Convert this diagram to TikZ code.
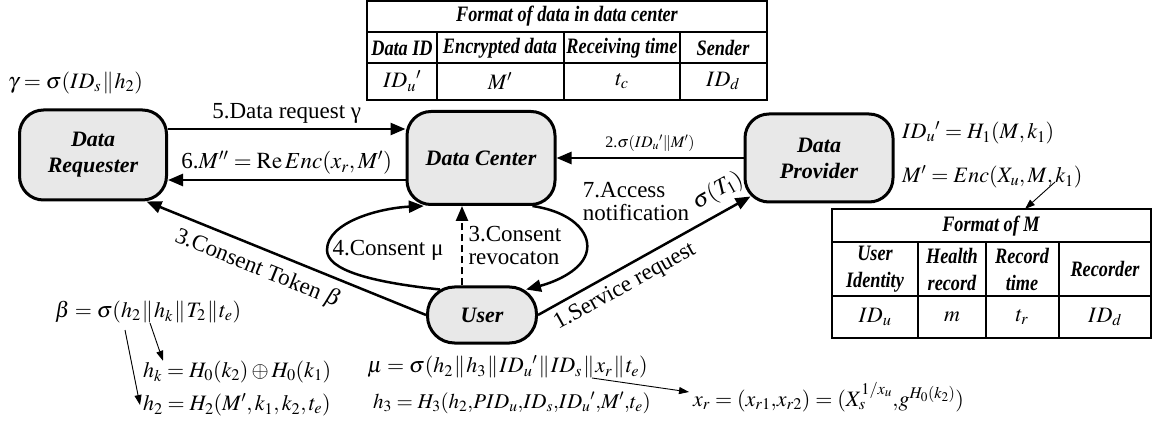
\documentclass[tikz,border=0pt]{standalone}
\usepackage{mathptmx}
\usepackage[no-math]{fontspec}
\setmainfont{Liberation Serif}
\newfontfamily\tabfont[FakeStretch=0.83]{Liberation Serif}
\usetikzlibrary{arrows.meta}
\newcommand{\pcat}{\mathrel{\mkern-3mu\|\mkern-3mu}}

\begin{document}
\begin{tikzpicture}[x=1pt, y=-1pt,
    party/.style={draw, line width=3pt, fill=gray!18, rounded corners=24pt, align=center,
        font=\fontsize{22}{26}\selectfont\bfseries\itshape},
    flow/.style={line width=2.5pt, -{Triangle[length=15pt,width=12pt]}},
    note/.style={line width=0.9pt, -{Triangle[length=10pt,width=7pt]}},
    lbl/.style={font=\fontsize{23}{23}\selectfont},
    eq/.style={anchor=west, inner sep=0pt, font=\fontsize{22}{24}\selectfont},
    cell/.style={font=\fontsize{22}{27}\selectfont\tabfont\bfseries\itshape, align=center, inner sep=0pt},
    val/.style={font=\fontsize{22}{24}\selectfont, inner sep=0pt},
    tabline/.style={line width=1.6pt}]
\useasboundingbox (0,0) rectangle (1158,427);

    % Format of data in data center
    \draw[tabline] (367,1) rectangle (767,100);
    \draw[tabline] (367,32) -- (767,32) (367,63) -- (767,63);
    \foreach \x in {437,564,680} \draw[tabline] (\x,32) -- (\x,100);
    \node[cell] (dcHead) at (567,16) {Format of data in data center};
    \node[cell] (dcId) at (402,48) {Data ID};
    \node[cell] (dcEnc) at (500,48) {Encrypted data};
    \node[cell] (dcRcv) at (622,48) {Receiving time};
    \node[cell] (dcSnd) at (723,48) {Sender};
    \node[val] (dcIdv) at (402,81) {${ID_u}'$};
    \node[val] (dcEncv) at (500,81) {$M'$};
    \node[val] (dcRcvv) at (622,81) {$t_c$};
    \node[val] (dcSndv) at (723,81) {$ID_d$};

    % Format of M
    \draw[tabline] (832,209) rectangle (1151,338);
    \draw[tabline] (832,242) -- (1151,242) (832,296) -- (1151,296);
    \foreach \x in {918,986,1059} \draw[tabline] (\x,242) -- (\x,338);
    \node[cell] (mHead) at (991,226) {Format of M};
    \node[cell] (mUsr) at (875,269) {User\\Identity};
    \node[cell] (mHlt) at (952,269) {Health\\record};
    \node[cell] (mTim) at (1022,269) {Record\\time};
    \node[cell] (mRec) at (1105,269) {Recorder};
    \node[val] (mUsrv) at (875,317) {$ID_u$};
    \node[val] (mHltv) at (952,317) {$m$};
    \node[val] (mTimv) at (1022,317) {$t_r$};
    \node[val] (mRecv) at (1105,317) {$ID_d$};

    % parties
    \node[party, minimum width=147pt, minimum height=90pt] (req) at (93,155) {Data\\Requester};
    \node[party, minimum width=148pt, minimum height=93pt] (dc) at (481,158) {Data Center};
    \node[party, minimum width=148pt, minimum height=88pt] (dp) at (819,158) {Data\\Provider};
    \node[party, rounded corners=27pt, minimum width=109pt, minimum height=56pt] (user) at (482,315) {User};

    % messages
    \coordinate (r5) at ([yshift=26pt]req.east);
    \draw[flow] (r5) -- (r5 -| dc.west) node[lbl, midway, above=1pt] (lbReq) {5.Data request γ};
    \coordinate (c6) at ([yshift=-22pt]dc.west);
    \draw[flow] (c6) -- (c6 -| req.east) node[lbl, midway, above=1pt] (lbRe) {6.$M''=\mathrm{Re}\,Enc(x_r,M')$};
    \draw[flow] (dp.west) -- (dp.west -| dc.east)
        node[midway, above=2pt, font=\fontsize{16}{18}\selectfont] (lbSig) {2.$\sigma({ID_u}'\|M')$};
    \draw[flow] (user.west) -- (req.-41);
    \node[lbl, rotate=-22] (lbTok) at (258,269) {3.Consent Token $\beta$};
    \draw[flow] ([shift={(-42pt,-4pt)}]user.north) .. controls (370,282) and (327,270) .. (327,250)
        .. controls (327,222) and (380,208) .. (dc.-140);
    \node[lbl] (lbCon) at (388,250) {4.Consent μ};
    \coordinate (rv) at ([xshift=-20pt]user.north);
    \draw[flow, dash pattern=on 7pt off 4pt] (rv) -- (rv |- dc.south)
        node[lbl, midway, right=2pt, align=left] (lbRev) {3.Consent\\revocaton};
    \draw[flow] (dc.-43) .. controls (572,212) and (590,232) .. (587,250)
        .. controls (584,270) and (555,282) .. ([shift={(-12pt,-4pt)}]user.north east);
    \node[lbl, align=left] (lbAcc) at (636,202) {7.Access\\notification};
    \draw[flow] (user.east) -- ([shift={(7pt,7pt)}]dp.south west);
    \node[lbl, rotate=29] (lbSrv) at (625,287) {1.Service request};
    \node[lbl, rotate=29] (lbT) at (718,191) {$\sigma(T_1)$};

    % equations
    \node[eq] (gam) at (8,83) {$\gamma=\sigma(ID_s\pcat h_2)$};
    \node[eq] (idu) at (902,133) {${ID_u}'=H_1(M,k_1)$};
    \node[eq] (menc) at (902,177) {$M'=Enc(X_u,M,k_1)$};
    \node[eq] (bet) at (55,312) {$\beta=\sigma(h_2\pcat h_k\pcat T_2\pcat t_e)$};
    \node[eq] (hk) at (143,372) {$h_k=H_0(k_2)\oplus H_0(k_1)$};
    \node[eq] (htwo) at (143,405) {$h_2=H_2(M',k_1,k_2,t_e)$};
    \node[eq] (mu) at (367,367) {$\mu=\sigma(h_2\pcat h_3\pcat {ID_u}'\pcat ID_s\pcat x_r\pcat t_e)$};
    \node[eq, font=\fontsize{21}{24}\selectfont] (hthr) at (373,403)
        {$h_3=H_3(h_2{,}PID_u{,}ID_s{,}{ID_u}'{,}M'{,}t_e)$};
    \node[eq] (xr) at (693,397) {$x_r=(x_{r1}{,}x_{r2})=(X_s^{1/x_u}{,}g^{H_0(k_2)})$};

    % pointers
    \coordinate (bh2) at (125,330);
    \coordinate (bhk) at (150,323);
    \coordinate (mxr) at (592,378);
    \coordinate (mm) at (1055,182);
    \coordinate (mtop) at (1025,209);
    \draw[note] (bh2) -- ([xshift=-3pt]htwo.west);
    \draw[note] (bhk) -- ([xshift=20pt]hk.north west);
    \draw[note] (mxr) -- ([shift={(-4pt,5pt)}]xr.west);
    \draw[note] (mm) -- (mtop);
\end{tikzpicture}
\end{document}
